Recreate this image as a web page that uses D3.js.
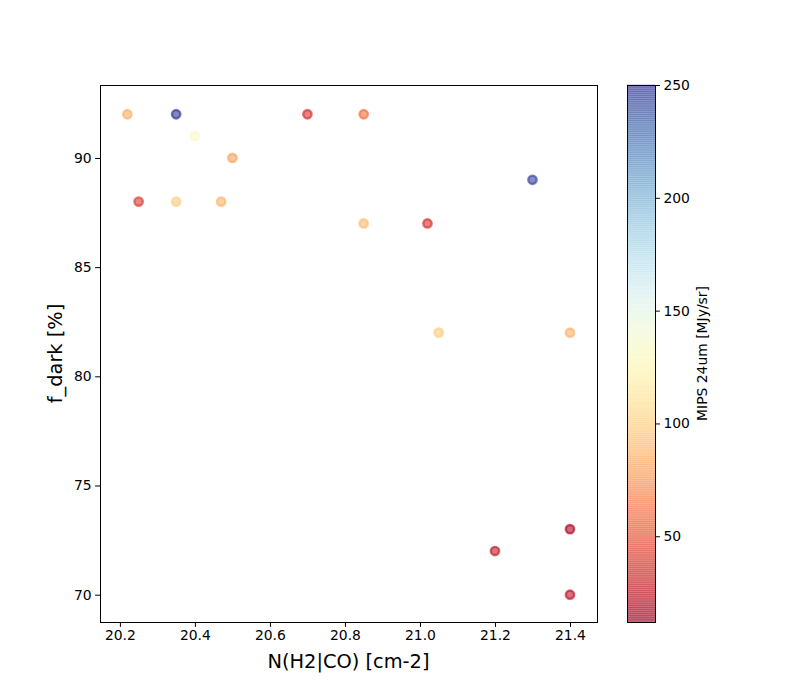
<!DOCTYPE html>
<html>
<head>
<meta charset="utf-8">
<script src="https://cdn.jsdelivr.net/npm/d3@7"></script>
<style>
  body { margin: 0; background: #fff; }
  text { font-family: "DejaVu Sans", sans-serif; fill: #000; }
</style>
</head>
<body>
<script>
// data
var nH2 = [20.22, 20.35, 20.40, 20.50, 20.25, 20.35, 20.47, 20.70, 20.85, 20.85, 21.02, 21.30, 21.05, 21.40, 21.40, 21.20, 21.40];
var fDark = [92, 92, 91, 90, 88, 88, 88, 92, 92, 87, 87, 89, 82, 82, 73, 72, 70];
var mips24 = [85, 250, 135, 80, 40, 98, 86, 35, 60, 90, 35, 245, 98, 86, 15, 25, 22];
var xTicks = [20.2, 20.4, 20.6, 20.8, 21.0, 21.2, 21.4];
var yTicks = [70, 75, 80, 85, 90];
var cTicks = [50, 100, 150, 200, 250];

var W = 800, H = 700;
var margin = {top: 85, left: 100},
    width = 497,
    height = 537;

var svg = d3.select('body').append('svg')
    .attr('width', W)
    .attr('height', H);

var g = svg.append('g')
    .attr('transform', 'translate(' + margin.left + ',' + margin.top + ')');

// set the ranges
var x = d3.scaleLinear().domain([20.147, 21.472]).range([0, width]);
var y = d3.scaleLinear().domain([68.75, 93.34]).range([height, 0]);
var cmin = 12, cmax = 250;
var color = d3.scaleSequential(function(t) { return d3.interpolateRdYlBu(t); })
    .domain([cmin, cmax]);

// points
var pts = nH2.map(function(d, i) { return {x: d, y: fDark[i], c: mips24[i]}; });
g.selectAll('circle.pt')
    .data(pts)
    .enter()
    .append('circle')
    .attr('class', 'pt')
    .attr('cx', function(d) { return x(d.x); })
    .attr('cy', function(d) { return y(d.y); })
    .attr('r', 4.2)
    .attr('fill', function(d) { return color(d.c); })
    .attr('fill-opacity', 0.6)
    .attr('stroke', function(d) { return color(d.c); })
    .attr('stroke-opacity', 0.65)
    .attr('stroke-width', 2.4);

// axes
var xAxis = g.append('g')
    .attr('transform', 'translate(0,' + height + ')')
    .call(d3.axisBottom(x).tickValues(xTicks).tickFormat(d3.format('.1f')).tickSizeOuter(0).tickSize(4.9).tickPadding(3.5));
var yAxis = g.append('g')
    .call(d3.axisLeft(y).tickValues(yTicks).tickSizeOuter(0).tickSize(4.9).tickPadding(3.5));
[xAxis, yAxis].forEach(function(a) {
    a.select('.domain').remove();
    a.selectAll('line').attr('stroke', '#000').attr('stroke-width', 1);
    a.selectAll('text').style('font-size', '13.9px').style('font-family', '"DejaVu Sans", sans-serif');
});

// frame
g.append('rect')
    .attr('x', 0.5)
    .attr('y', 0.5)
    .attr('width', width)
    .attr('height', height)
    .attr('fill', 'none')
    .attr('stroke', '#000')
    .attr('stroke-width', 1)
    .attr('shape-rendering', 'crispEdges');

// labels
svg.append('text')
    .attr('x', margin.left + width / 2)
    .attr('y', 668)
    .attr('text-anchor', 'middle')
    .style('font-size', '19.4px')
    .text('N(H2|CO) [cm-2]');
svg.append('text')
    .attr('transform', 'translate(62,' + (margin.top + height / 2) + ') rotate(-90)')
    .attr('text-anchor', 'middle')
    .style('font-size', '19.4px')
    .text('f_dark [%]');

// colorbar
var cbX = 627, cbW = 28;
var cy = d3.scaleLinear().domain([cmin, cmax]).range([margin.top + height, margin.top]);
var cb = svg.append('g');
var steps = d3.range(cmin, cmax, (cmax - cmin) / 256);
cb.selectAll('rect.step')
    .data(steps)
    .enter()
    .append('rect')
    .attr('class', 'step')
    .attr('x', cbX)
    .attr('width', cbW)
    .attr('y', function(d) { return cy(d + (cmax - cmin) / 256) - 0.3; })
    .attr('height', function(d) { return cy(d) - cy(d + (cmax - cmin) / 256) + 0.6; })
    .attr('fill', function(d) { return color(d); })
    .attr('fill-opacity', 0.6);
cb.append('rect')
    .attr('x', cbX + 0.5)
    .attr('y', margin.top + 0.5)
    .attr('width', cbW)
    .attr('height', height)
    .attr('fill', 'none')
    .attr('stroke', '#000')
    .attr('stroke-width', 1)
    .attr('shape-rendering', 'crispEdges');
var cAxis = svg.append('g')
    .attr('transform', 'translate(' + (cbX + cbW) + ',0)')
    .call(d3.axisRight(cy).tickValues(cTicks).tickSize(4.9).tickPadding(3.5));
cAxis.select('.domain').remove();
cAxis.selectAll('line').attr('stroke', '#000').attr('stroke-width', 1);
cAxis.selectAll('text').style('font-size', '13.9px').style('font-family', '"DejaVu Sans", sans-serif');

svg.append('text')
    .attr('transform', 'translate(707,' + (margin.top + height / 2) + ') rotate(-90)')
    .attr('text-anchor', 'middle')
    .style('font-size', '13.9px')
    .text('MIPS 24um [MJy/sr]');
</script>
</body>
</html>
